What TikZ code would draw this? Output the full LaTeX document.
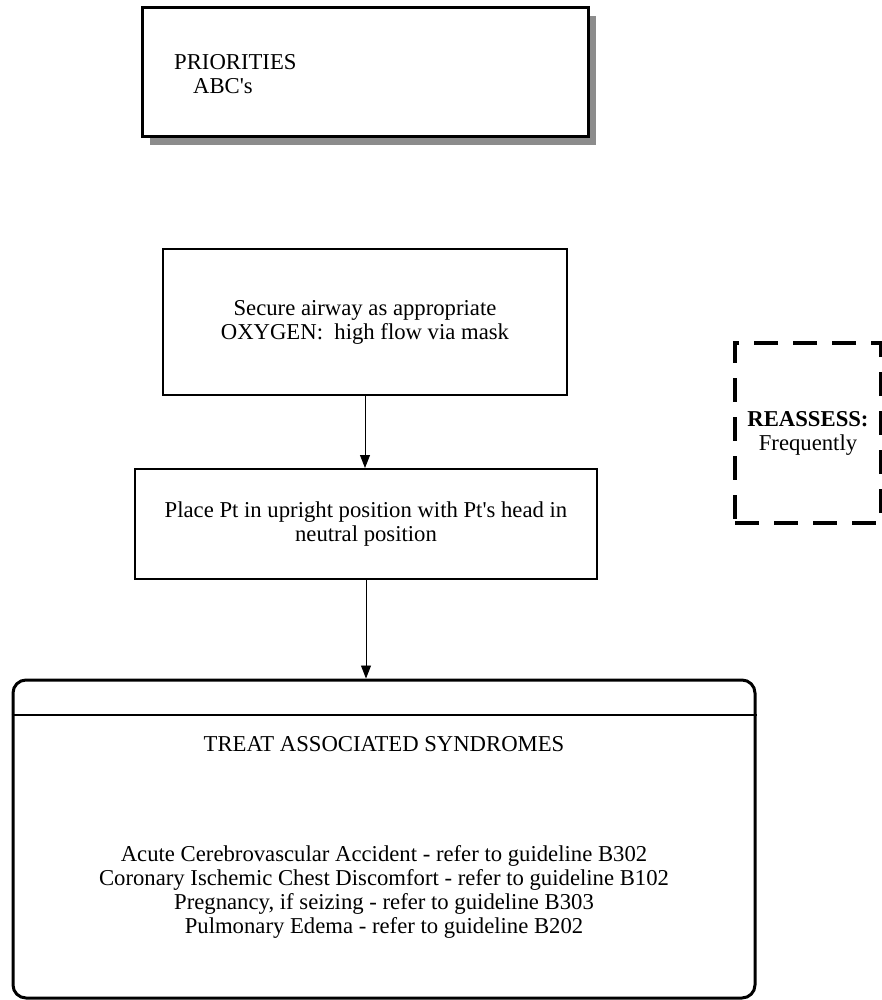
\documentclass[tikz,border=0pt]{standalone}
\usepackage{fontspec}
\setmainfont{Liberation Serif}
\usetikzlibrary{shadows}
\usetikzlibrary{arrows.meta}

\tikzset{
  stepbox/.style={rectangle,draw,line width=2pt,align=center,inner sep=0pt},
  flowarrow/.style={line width=0.9pt,-{Triangle[length=13pt,width=10pt]}}
}

\begin{document}
\begin{tikzpicture}[x=1pt,y=-1pt,font=\fontsize{22.7}{24}\selectfont]
\useasboundingbox (0,0) rectangle (881,1000);
%top box with shadow
\path (365,72.5) node(prio) [rectangle,draw,line width=3pt,minimum width=446pt,minimum height=129pt,fill=white,
  drop shadow={shadow xshift=8pt,shadow yshift=-8pt,fill=black!45,opacity=1}]{};
\path (174,74) node(priotext) [anchor=west,align=left,inner sep=0pt]{PRIORITIES\\
\hspace*{19pt}ABC\textquotesingle s};
%flow
\path (365,322) node(secure) [stepbox,minimum width=404pt,minimum height=146pt]{Secure airway as appropriate\\
OXYGEN:\ \ high flow via mask};
\path (366,524) node(place) [stepbox,minimum width=462pt,minimum height=110pt]{Place Pt in upright position with Pt\textquotesingle s head in\\
neutral position};
\path (384,839) node(treat) [rectangle,draw,line width=3pt,rounded corners=13pt,minimum width=742pt,minimum height=318pt]{};
\draw[line width=2pt] ([yshift=-36pt]treat.north west) -- ([yshift=-36pt]treat.north east);
\path (384,744) node(treattitle) [inner sep=0pt]{TREAT ASSOCIATED SYNDROMES};
\path (384,892) node(treatlist) [align=center,inner sep=0pt]{Acute Cerebrovascular Accident - refer to guideline B302\\
Coronary Ischemic Chest Discomfort - refer to guideline B102\\
Pregnancy, if seizing - refer to guideline B303\\
Pulmonary Edema - refer to guideline B202};
\draw[flowarrow] (secure.south) -- (secure.south |- place.north);
\draw[flowarrow] (place.south) -- (place.south |- treat.north);
%reassess
\path (808,433) node(reassess) [rectangle,draw,line width=4.5pt,dash pattern=on 24pt off 15pt,minimum width=146pt,minimum height=180pt,align=center,inner sep=0pt]{\textbf{REASSESS:}\\
Frequently};
\end{tikzpicture}
\end{document}
